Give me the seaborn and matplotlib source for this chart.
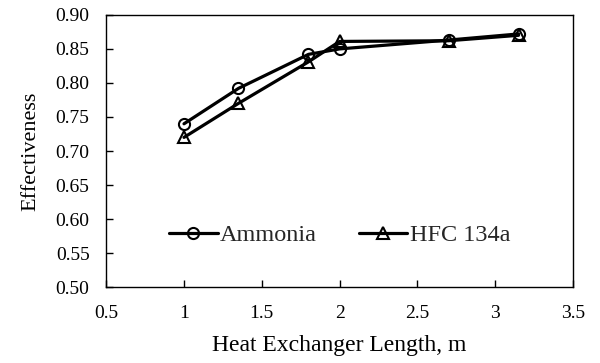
import pandas as pd
import matplotlib
matplotlib.use("Agg")
import matplotlib.pyplot as plt
import seaborn as sns

# Datos
longitud_amoniaco = [1.0, 1.35, 1.8, 2.0, 2.7, 3.15]
efect_amoniaco = [0.740, 0.792, 0.842, 0.850, 0.863, 0.872]
longitud_hfc = [1.0, 1.35, 1.8, 2.0, 2.7, 3.15]
efect_hfc = [0.720, 0.770, 0.831, 0.861, 0.862, 0.870]
ticks_x = [0.5, 1, 1.5, 2, 2.5, 3, 3.5]
ticks_y = [0.50, 0.55, 0.60, 0.65, 0.70, 0.75, 0.80, 0.85, 0.90]

df = pd.concat([
    pd.DataFrame({"x": longitud_amoniaco, "y": efect_amoniaco, "Fluido": "Ammonia"}),
    pd.DataFrame({"x": longitud_hfc, "y": efect_hfc, "Fluido": "HFC 134a"}),
])

sns.set_theme(style="ticks")
plt.rcParams["font.family"] = ["Liberation Serif", "DejaVu Serif"]

fig, ax = plt.subplots(figsize=(6, 3.63), dpi=100)
fig.subplots_adjust(left=0.177, right=0.955, top=0.959, bottom=0.209)

sns.lineplot(
    data=df, x="x", y="y", style="Fluido",
    markers={"Ammonia": "o", "HFC 134a": "^"},
    dashes=False, color="black", linewidth=2.3,
    markersize=8, markerfacecolor="none", markeredgecolor="black",
    markeredgewidth=1.5, ax=ax,
)

ax.set_xlim(0.5, 3.5)
ax.set_ylim(0.5, 0.9)
ax.set_xticks(ticks_x)
ax.set_xticklabels(["0.5", "1", "1.5", "2", "2.5", "3", "3.5"])
ax.set_yticks(ticks_y)
ax.set_yticklabels([f"{v:.2f}" for v in ticks_y])
ax.tick_params(direction="in", length=5, width=1, labelsize=14, colors="black")
ax.tick_params(axis="x", pad=13)
ax.tick_params(axis="y", pad=12)
for s in ax.spines.values():
    s.set_visible(True)
    s.set_color("black")
    s.set_linewidth(1)

ax.set_xlabel("Heat Exchanger Length, m", fontsize=17, color="black", labelpad=9)
ax.set_ylabel("Effectiveness", fontsize=16, color="black", labelpad=11)

ax.legend(
    title=None, loc="center", bbox_to_anchor=(0.5, 0.19), ncol=2,
    frameon=False, fontsize=17.5, handlelength=2.0, columnspacing=1.7,
    handletextpad=0.1,
)

plt.savefig("out.png", dpi=100)
